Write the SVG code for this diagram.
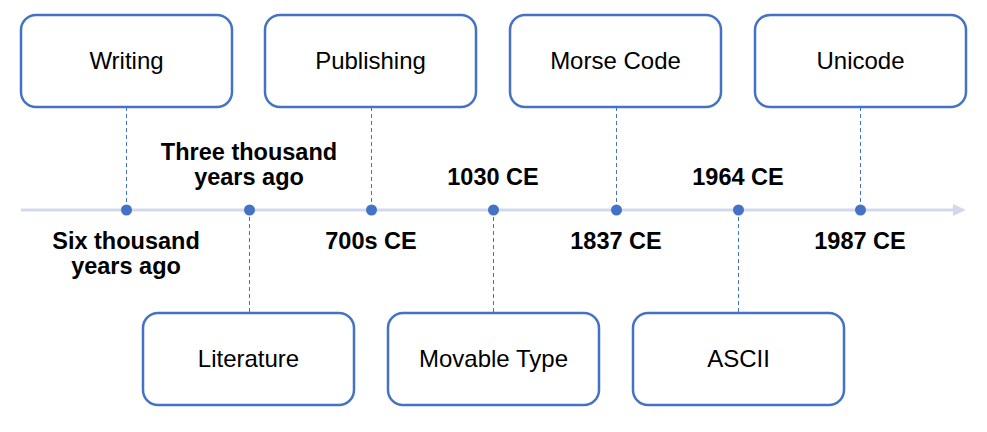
<svg xmlns="http://www.w3.org/2000/svg" width="987" height="432" viewBox="0 0 987 432">
<defs>
<style>
.box{fill:#fff;stroke:#4472C4;stroke-width:2.5}
.bt{font-family:"Liberation Sans",Arial,sans-serif;font-size:24px;fill:#000;text-anchor:middle}
.lb{font-family:"Liberation Sans",Arial,sans-serif;font-size:23.5px;font-weight:bold;fill:#000;text-anchor:middle}
.dash{stroke:#4472C4;stroke-width:1;stroke-dasharray:4 3;fill:none}
.dot{fill:#4472C4}
</style>
</defs>
<g id="connectors">
<line x1="21" y1="210" x2="955" y2="210" stroke="#D3D8EC" stroke-width="3"/>
<polygon points="953,204 966,210 953,216" fill="#D3D8EC"/>
<line class="dash" x1="126.5" y1="107" x2="126.5" y2="210"/>
<line class="dash" x1="371.5" y1="107" x2="371.5" y2="210"/>
<line class="dash" x1="616.5" y1="107" x2="616.5" y2="210"/>
<line class="dash" x1="860.5" y1="107" x2="860.5" y2="210"/>
<line class="dash" x1="249.5" y1="210" x2="249.5" y2="313"/>
<line class="dash" x1="493.5" y1="210" x2="493.5" y2="313"/>
<line class="dash" x1="738.5" y1="210" x2="738.5" y2="313"/>
<circle class="dot" cx="126.5" cy="210" r="5.5"/>
<circle class="dot" cx="249.5" cy="210" r="5.5"/>
<circle class="dot" cx="371.5" cy="210" r="5.5"/>
<circle class="dot" cx="493.5" cy="210" r="5.5"/>
<circle class="dot" cx="616.5" cy="210" r="5.5"/>
<circle class="dot" cx="738.5" cy="210" r="5.5"/>
<circle class="dot" cx="860.5" cy="210" r="5.5"/>
</g>
<g id="writing"><rect class="box" x="21" y="15" width="211" height="92" rx="15"/><text class="bt" x="126.5" y="69">Writing</text></g>
<g id="publishing"><rect class="box" x="265" y="15" width="211" height="92" rx="15"/><text class="bt" x="370.5" y="69">Publishing</text></g>
<g id="morse"><rect class="box" x="510" y="15" width="211" height="92" rx="15"/><text class="bt" x="615.5" y="69">Morse Code</text></g>
<g id="unicode"><rect class="box" x="755" y="15" width="211" height="92" rx="15"/><text class="bt" x="860.5" y="69">Unicode</text></g>
<g id="literature"><rect class="box" x="143" y="313" width="211" height="92" rx="15"/><text class="bt" x="248.5" y="367">Literature</text></g>
<g id="movable"><rect class="box" x="388" y="313" width="211" height="92" rx="15"/><text class="bt" x="493.5" y="367">Movable Type</text></g>
<g id="ascii"><rect class="box" x="633" y="313" width="211" height="92" rx="15"/><text class="bt" x="738.5" y="367">ASCII</text></g>
<g id="labels">
<text class="lb" x="126" y="249">Six thousand</text>
<text class="lb" x="126" y="274">years ago</text>
<text class="lb" x="249" y="160">Three thousand</text>
<text class="lb" x="249" y="185">years ago</text>
<text class="lb" x="371" y="249">700s CE</text>
<text class="lb" x="493" y="185">1030 CE</text>
<text class="lb" x="616" y="249">1837 CE</text>
<text class="lb" x="738" y="185">1964 CE</text>
<text class="lb" x="860" y="249">1987 CE</text>
</g>
</svg>
